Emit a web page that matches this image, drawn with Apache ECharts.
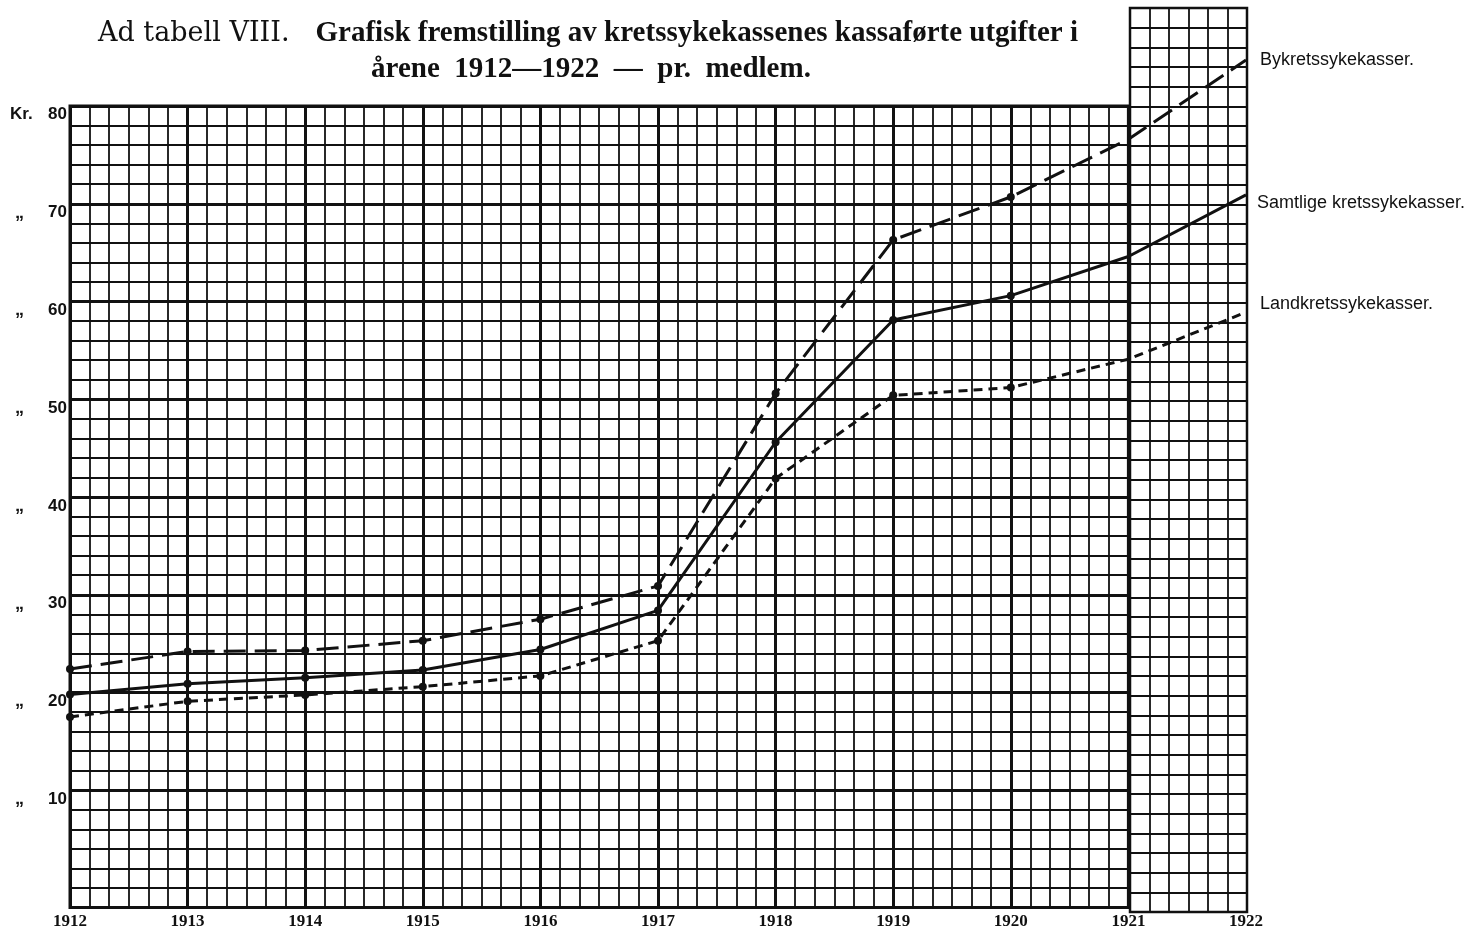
<!DOCTYPE html>
<html><head><meta charset="utf-8">
<script src="https://cdn.jsdelivr.net/npm/echarts@6/dist/echarts.min.js"></script>
<style>html,body{margin:0;padding:0;background:#fff}#c{width:1470px;height:933px}</style>
</head><body><div id="c"></div>
<script>
// ---- data ----
const years = [1912, 1913, 1914, 1915, 1916, 1917, 1918, 1919, 1920, 1921, 1922];
const bykrets   = [22.4, 24.2, 24.3, 25.3, 27.5, 30.9, 50.6, 66.3, 70.7, 76.6, 84.7];
const samtlige  = [19.8, 20.9, 21.5, 22.3, 24.4, 28.4, 45.6, 58.1, 60.6, 64.6, 70.9];
const landkrets = [17.5, 19.1, 19.75, 20.6, 21.7, 25.3, 41.9, 50.4, 51.2, 54.1, 58.9];
const seriesNames = ['Bykretssykekasser.', 'Samtlige kretssykekasser.', 'Landkretssykekasser.'];
const yTickValues = [10, 20, 30, 40, 50, 60, 70, 80];
const titleLine1a = 'Ad tabell VIII.';
const titleLine1b = 'Grafisk fremstilling av kretssykekassenes kassaførte utgifter i';
const titleLine2 = 'årene  1912—1922  —  pr.  medlem.';
const markedPoints = 9; // dots drawn for 1912–1920

// ---- layout ----
const L = 70, R = 1246, Y0 = 888, Y80 = 106;
const unit = (Y0 - Y80) / 80;
const yearW = (R - L) / 10;
const ink = '#111';
const thin = 1.8, thick = 3;

const chart = echarts.init(document.getElementById('c'), null, {renderer: 'canvas'});

function mk(arr) {
  return years.map((y, i) => ({value: [y, arr[i]], symbol: i < markedPoints ? 'circle' : 'none'}));
}
const labelFont = {fontFamily: 'Liberation Sans', fontSize: 18, color: ink};

const option = {
  backgroundColor: '#fff',
  animation: false,
  grid: [
    {left: L, top: Y80, width: yearW * 9, height: Y0 - Y80 + 2 * unit, show: true, borderColor: ink, borderWidth: 3, backgroundColor: 'transparent'},
    {left: L, top: Y80, width: yearW * 9, height: Y0 - Y80},
    {left: L, top: Y80 - 10 * unit, width: R - L, height: Y0 - Y80 + 10 * unit},
    {left: 1130, top: 8, width: 117, height: 904, show: true, borderColor: ink, borderWidth: 2.5, backgroundColor: 'transparent'}
  ],
  xAxis: [
    {gridIndex: 0, type: 'value', min: 1912, max: 1921, interval: 1,
     axisLine: {show: false}, axisTick: {show: false}, axisLabel: {show: false},
     splitLine: {show: true, lineStyle: {color: ink, width: thick}},
     minorTick: {show: false, splitNumber: 6},
     minorSplitLine: {show: true, lineStyle: {color: ink, width: thin}}},
    {gridIndex: 1, type: 'value', min: 1912, max: 1921, show: false},
    {gridIndex: 2, type: 'value', min: 1912, max: 1922, interval: 1,
     axisLine: {show: false}, axisTick: {show: false}, splitLine: {show: false},
     axisLabel: {show: true, margin: 25, formatter: v => String(v),
       fontFamily: 'Liberation Serif', fontWeight: 'bold', fontSize: 17, color: ink}},
    {gridIndex: 3, type: 'value', min: 0, max: 6, interval: 1,
     axisLine: {show: false}, axisTick: {show: false}, axisLabel: {show: false},
     splitLine: {show: true, lineStyle: {color: ink, width: thin}}}
  ],
  yAxis: [
    {gridIndex: 0, type: 'value', min: -2, max: 80, interval: 2,
     axisLine: {show: false}, axisTick: {show: false}, axisLabel: {show: false},
     splitLine: {show: true, lineStyle: {color: ink, width: thin}}},
    {gridIndex: 1, type: 'value', min: 0, max: 80, interval: 10,
     axisLine: {show: false}, axisTick: {show: false},
     splitLine: {show: true, showMinLine: false, lineStyle: {color: ink, width: thick}},
     axisLabel: {show: true, margin: 3, verticalAlign: 'top',
       formatter: v => {
         if (yTickValues.indexOf(v) < 0) return '';
         return v === 80 ? '{k|Kr.}{n|' + v + '}' : '{q|„}{n|' + v + '}';
       },
       rich: {
         k: {fontFamily: 'Liberation Sans', fontWeight: 'bold', fontSize: 17, color: ink, width: 38, align: 'left'},
         q: {fontFamily: 'Liberation Sans', fontWeight: 'bold', fontSize: 18, color: ink, width: 33, align: 'left'},
         n: {fontFamily: 'Liberation Sans', fontWeight: 'bold', fontSize: 17, color: ink}
       }}},
    {gridIndex: 2, type: 'value', min: 0, max: 90, show: false},
    {gridIndex: 3, type: 'value', min: 0, max: 46, interval: 1,
     axisLine: {show: false}, axisTick: {show: false}, axisLabel: {show: false},
     splitLine: {show: true, lineStyle: {color: ink, width: thin}}}
  ],
  graphic: [
    {type: 'text', x: 588, y: 34, z: 10, style: {
      text: '{r|' + titleLine1a + '}{s| }{b|' + titleLine1b + '}',
      align: 'center', verticalAlign: 'middle',
      rich: {
        r: {fontFamily: 'DejaVu Serif', fontSize: 27, fill: ink},
        s: {fontFamily: 'Liberation Serif', fontSize: 27, width: 26},
        b: {fontFamily: 'Liberation Serif', fontWeight: 'bold', fontSize: 29, fill: ink}
      }}},
    {type: 'text', x: 591, y: 70, z: 10, style: {
      text: titleLine2, align: 'center', verticalAlign: 'middle',
      fontFamily: 'Liberation Serif', fontWeight: 'bold', fontSize: 29, fill: ink}}
  ],
  series: [
    {name: seriesNames[0], type: 'line', xAxisIndex: 2, yAxisIndex: 2, data: mk(bykrets),
     symbolSize: 8, clip: false, itemStyle: {color: ink},
     lineStyle: {color: ink, width: 3, type: [22, 9]},
     endLabel: Object.assign({show: true, formatter: p => p.seriesName, distance: 14, offset: [0, 0]}, labelFont)},
    {name: seriesNames[1], type: 'line', xAxisIndex: 2, yAxisIndex: 2, data: mk(samtlige),
     symbolSize: 8, clip: false, itemStyle: {color: ink},
     lineStyle: {color: ink, width: 3, type: 'solid'},
     endLabel: Object.assign({show: true, formatter: p => p.seriesName, distance: 11, offset: [0, 8]}, labelFont)},
    {name: seriesNames[2], type: 'line', xAxisIndex: 2, yAxisIndex: 2, data: mk(landkrets),
     symbolSize: 8, clip: false, itemStyle: {color: ink},
     lineStyle: {color: ink, width: 3, type: [9, 6]},
     endLabel: Object.assign({show: true, formatter: p => p.seriesName, distance: 14, offset: [0, -8]}, labelFont)}
  ]
};
chart.setOption(option);
</script>
</body></html>
